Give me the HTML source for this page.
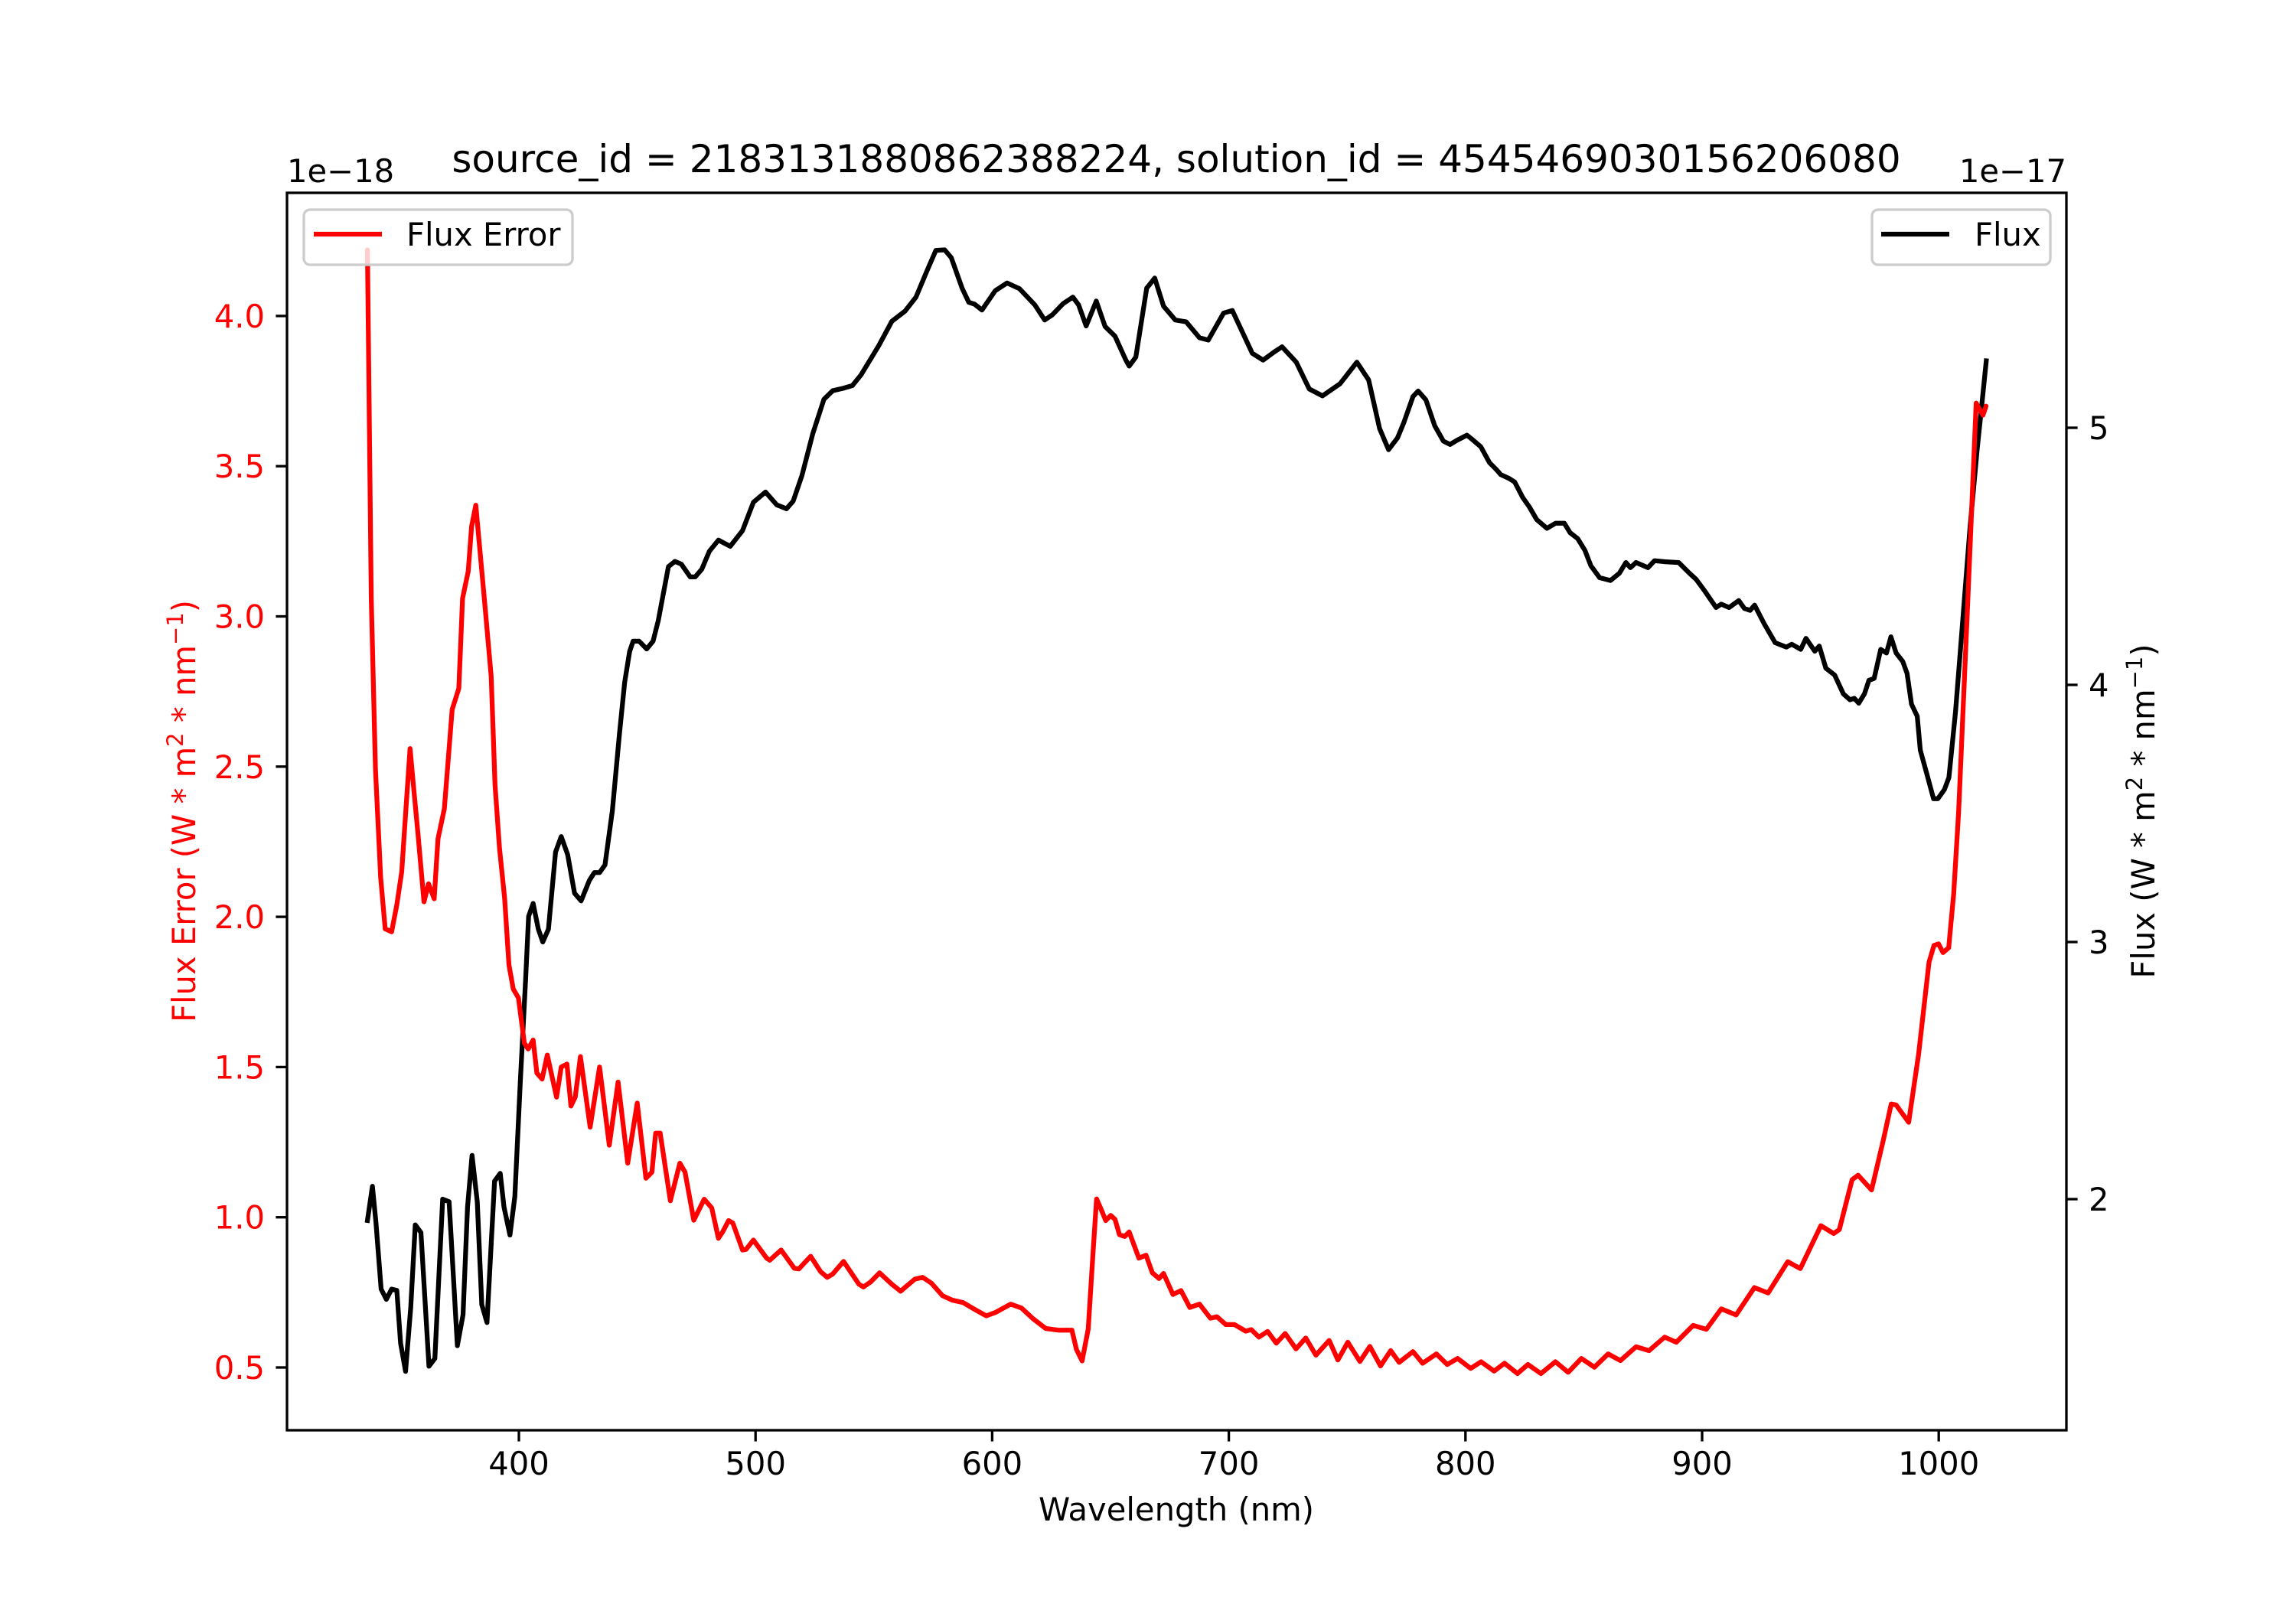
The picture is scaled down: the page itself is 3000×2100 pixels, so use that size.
<!DOCTYPE html>
<html><head><meta charset="utf-8">
<style>
html,body{margin:0;padding:0;background:#fff;}
svg{display:block;font-family:"DejaVu Sans","Liberation Sans",sans-serif;}
</style></head>
<body>
<svg id="chart" width="3000" height="2100" viewBox="0 0 3000 2100" xmlns="http://www.w3.org/2000/svg">
<rect x="0" y="0" width="3000" height="2100" fill="#fff"/>
<text x="1537" y="225" font-size="50" text-anchor="middle">source_id = 2183131880862388224, solution_id = 4545469030156206080</text>
<text x="375" y="238" font-size="41.7">1e−18</text>
<text x="2700" y="238" font-size="41.7" text-anchor="end">1e−17</text>
<g id="plot"></g>
<g id="axes"></g>
<text x="1537" y="1987" font-size="41.7" text-anchor="middle">Wavelength (nm)</text>
<text transform="translate(255,1060) rotate(-90)" font-size="41.7" fill="#ff0000" text-anchor="middle">Flux Error (W * m<tspan font-size="29" dy="-16">2</tspan><tspan dy="16"> * nm</tspan><tspan font-size="29" dy="-16">−1</tspan><tspan dy="16">)</tspan></text>
<text transform="translate(2815,1060) rotate(-90)" font-size="41.7" fill="#000" text-anchor="middle">Flux (W * m<tspan font-size="29" dy="-16">2</tspan><tspan dy="16"> * nm</tspan><tspan font-size="29" dy="-16">−1</tspan><tspan dy="16">)</tspan></text>
<g>
<rect x="397" y="274" width="351" height="72" rx="8" fill="#fff" fill-opacity="0.8" stroke="#cccccc" stroke-width="3.3"/>
<line x1="410" y1="306" x2="499" y2="306" stroke="#ff0000" stroke-width="6.25"/>
<text x="531" y="321" font-size="41.7">Flux Error</text>
</g>
<g>
<rect x="2446" y="274" width="233" height="72" rx="8" fill="#fff" fill-opacity="0.8" stroke="#cccccc" stroke-width="3.3"/>
<line x1="2458" y1="306" x2="2547" y2="306" stroke="#000" stroke-width="6.25"/>
<text x="2580" y="321" font-size="41.7">Flux</text>
</g>
</svg>
<script>
const xTicks = [400, 500, 600, 700, 800, 900, 1000];
const leftTicks = [0.5, 1.0, 1.5, 2.0, 2.5, 3.0, 3.5, 4.0];
const leftTickLabels = ["0.5","1.0","1.5","2.0","2.5","3.0","3.5","4.0"];
const rightTicks = [2, 3, 4, 5];
const rightTickLabels = ["2","3","4","5"];

const errWl = [336,337.6,339.4,341.6,343.5,346.2,348.4,350.5,352.1,354,355.4,357.3,359.9,361.8,364.2,365.8,368.5,371.8,374.6,376.2,378.6,380,381.8,385.6,388.3,389.9,391.8,394,395.8,397.6,399.8,402.3,403.9,406,407.6,409.8,412,415.9,417.9,420.3,422,423.8,426,430.1,434.1,438.2,441.9,446,450,453.7,456.2,457.8,459.7,464,468,470.2,473.9,478.3,
481.5,484.3,486.1,488.6,490.4,494.5,496,499.1,504.7,506,510.8,516.4,518.3,523.3,527.5,530.3,532.6,537.2,543.7,545.6,548.7,552.4,557.6,561.3,567.3,570.6,574.3,579,583.2,587.7,592.9,597.5,601.3,607.8,612.4,617,622.6,628.2,633.7,635.6,638,640.6,642.7,644.1,645.8,648,650.1,651.9,653.8,656,657.9,662,665,667.7,670.5,672.4,676.4,679.8,683.5,687.6,692.2,695,698.7,702.4,707.1,709.5,712.7,716.4,720.1,723.8,728.4,732.5,736.8,742.4,746.1,750.3,755.4,759.6,764.1,768.4,
772,777.8,781.9,787.7,792.3,796.7,802.2,806.6,812.1,816.5,822,826.4,831.9,838,843.4,849,854.5,860.3,865.5,872.1,877.6,884.2,889.1,896.2,901.8,908.1,914.4,922.1,927.9,936.2,941.5,950.2,955.6,958,963.4,965.9,971.6,976.6,979.9,982,987.3,991.5,995.9,998,999.9,1001.8,1004.2,1006.3,1008.4,1012,1015.8,1018.7,1020];
const errVal = [4.22,3.06,2.49,2.13,1.96,1.95,2.04,2.15,2.34,2.56,2.44,2.28,2.05,2.11,2.06,2.26,2.36,2.69,2.76,3.06,3.15,3.30,3.37,3.04,2.80,2.44,2.23,2.06,1.84,1.76,1.73,1.58,1.56,1.59,1.48,1.46,1.54,1.40,1.50,1.51,1.37,1.40,1.535,1.30,1.50,1.24,1.45,1.18,1.38,1.13,1.15,1.28,1.28,1.055,1.18,1.15,0.99,1.06,
1.031,0.93,0.951,0.989,0.981,0.891,0.893,0.924,0.864,0.857,0.891,0.83,0.828,0.87,0.819,0.80,0.811,0.853,0.777,0.768,0.785,0.815,0.777,0.754,0.794,0.80,0.781,0.739,0.724,0.716,0.692,0.672,0.683,0.711,0.698,0.664,0.63,0.624,0.624,0.56,0.522,0.628,0.891,1.061,1.031,0.989,1.006,0.993,0.942,0.936,0.951,0.864,0.874,0.815,0.796,0.813,0.743,0.756,0.70,0.711,0.664,0.669,0.643,0.643,0.621,0.626,0.601,0.62,0.581,0.613,0.562,0.598,0.541,0.59,0.525,0.584,0.52,0.57,0.505,0.556,
0.517,0.553,0.514,0.545,0.51,0.53,0.497,0.519,0.488,0.514,0.48,0.51,0.48,0.519,0.484,0.53,0.501,0.545,0.523,0.569,0.556,0.601,0.584,0.64,0.627,0.695,0.675,0.766,0.748,0.852,0.829,0.972,0.946,0.959,1.125,1.14,1.091,1.257,1.377,1.374,1.316,1.543,1.849,1.905,1.91,1.881,1.897,2.076,2.35,3.0,3.71,3.67,3.70];

const fluxWl = [336,338.1,339.6,341.8,344,346.2,348.4,350,352.1,354.3,356.2,358.6,362,364.5,367.8,370.5,374,376.4,378.3,380.2,382.4,384.3,386.5,389.7,392.1,393.7,396.2,398.3,400.6,402.8,404.1,406,408.2,410.1,412.5,415.5,417.9,420.6,423.5,426.3,429.8,431.9,434.1,436.4,439.5,442.5,444.7,446.8,448.3,450.8,454,456.7,458.9,463.2,465.9,468.6,472.4,474.5,477.3,480.5,
484.3,489.3,494.5,499.1,504.2,509,513.1,515.9,519.6,524.2,528.9,532.6,537.2,540.9,544.6,552.1,557.6,563.2,567.8,572.5,576.2,579.9,582.7,587.3,590.1,592.5,595.7,601.3,606.3,611.5,618,622.2,625.4,630,634.1,636.5,639.7,644,647.7,651.9,656.4,657.9,660.7,665.3,668.7,672.4,677.4,682,687.6,691.3,697.8,701.5,709.9,714.5,719.2,722.5,728.5,734,739.6,747,750.7,754.1,759.1,763.7,
767.5,771.3,774,777.8,780,783.3,787,790.7,793.5,796.3,800.6,802.8,806.5,810.2,813,814.9,818.6,820.8,824.2,827,830.1,834.4,838.1,841.8,844.2,847.4,850.5,853,856.7,861.3,865,867.8,869.7,872.1,877.1,879.9,884.5,890.1,894.7,897.5,901.2,905.9,908.1,911.4,915.5,917.9,920.3,922.2,926.3,930.9,935.6,937.9,941.7,943.9,947.6,949.5,952.3,956,959.7,962.5,964.3,966.2,968.6,970.5,972.7,975.5,977.9,979.8,982,984.8,986.6,988.5,990.9,992.2,995,997.8,999.6,1002.4,1004.3,1007.1,1009.8,1013.2,1016.3,1017.6,1020.1];
const fluxVal = [1.917,2.05,1.91,1.65,1.61,1.65,1.645,1.44,1.33,1.58,1.90,1.87,1.35,1.38,2.00,1.99,1.43,1.55,1.97,2.17,1.99,1.59,1.52,2.07,2.10,1.97,1.86,2.01,2.46,2.85,3.10,3.15,3.05,3.00,3.05,3.35,3.41,3.34,3.19,3.16,3.24,3.27,3.27,3.30,3.51,3.81,4.01,4.13,4.17,4.17,4.14,4.17,4.25,4.46,4.48,4.47,4.42,4.42,4.45,4.52,
4.563,4.539,4.60,4.71,4.75,4.70,4.685,4.715,4.814,4.977,5.111,5.144,5.154,5.164,5.206,5.32,5.414,5.454,5.508,5.612,5.69,5.692,5.662,5.543,5.488,5.481,5.458,5.533,5.563,5.541,5.478,5.419,5.439,5.483,5.508,5.478,5.396,5.493,5.394,5.356,5.265,5.240,5.275,5.543,5.582,5.473,5.419,5.412,5.35,5.341,5.446,5.456,5.29,5.263,5.295,5.315,5.255,5.151,5.124,5.171,5.215,5.255,5.186,4.997,
4.915,4.961,5.021,5.121,5.143,5.108,5.008,4.948,4.935,4.951,4.971,4.955,4.926,4.864,4.838,4.818,4.802,4.789,4.729,4.692,4.643,4.609,4.629,4.629,4.592,4.569,4.523,4.463,4.417,4.406,4.434,4.476,4.456,4.476,4.456,4.483,4.479,4.476,4.434,4.41,4.364,4.301,4.314,4.301,4.328,4.297,4.29,4.31,4.237,4.164,4.147,4.158,4.138,4.181,4.131,4.151,4.065,4.038,3.965,3.942,3.948,3.929,3.965,4.018,4.025,4.138,4.124,4.187,4.124,4.091,4.045,3.925,3.878,3.746,3.653,3.557,3.557,3.593,3.64,3.898,4.211,4.61,4.922,5.035,5.26];

const NS = "http://www.w3.org/2000/svg";
const AX = {l:375, r:2700, t:252, b:1869};
const X = v => 678 + (v - 400) * 3.092;
const YL = v => 1787 - (v - 0.5) * 392.6;
const YR = v => 1567 - (v - 2) * 336;

const plot = document.getElementById('plot');
const axes = document.getElementById('axes');

function mk(tag, attrs, parent){
  const e = document.createElementNS(NS, tag);
  for (const k in attrs) e.setAttribute(k, attrs[k]);
  parent.appendChild(e);
  return e;
}

let d1 = fluxWl.map((w,i)=>(i?'L':'M')+X(w).toFixed(1)+','+YR(fluxVal[i]).toFixed(1)).join(' ');
const fluxLine = mk('path', {d:d1, fill:'none', stroke:'#000', 'stroke-width':6.25, 'stroke-linejoin':'round', 'stroke-linecap':'square'}, plot);



let d2 = errWl.map((w,i)=>(i?'L':'M')+X(w).toFixed(1)+','+YL(errVal[i]).toFixed(1)).join(' ');
const errLine = mk('path', {d:d2, fill:'none', stroke:'#ff0000', 'stroke-width':6.25, 'stroke-linejoin':'round', 'stroke-linecap':'round'}, plot);



const frame = mk('rect', {x:AX.l, y:AX.t, width:AX.r-AX.l, height:AX.b-AX.t, fill:'none', stroke:'#000', 'stroke-width':3.3}, axes);



xTicks.forEach(v=>{
  const x = X(v);
  const t = mk('line', {x1:x, y1:AX.b, x2:x, y2:AX.b+14.6, stroke:'#000', 'stroke-width':3.3}, axes);
  
  
  const lb = mk('text', {x:x, y:AX.b+58, 'font-size':41.7, 'text-anchor':'middle'}, axes);
  lb.textContent = String(v);
  
  
});
leftTicks.forEach((v,i)=>{
  const y = YL(v);
  const t = mk('line', {x1:AX.l-14.6, y1:y, x2:AX.l, y2:y, stroke:'#000', 'stroke-width':3.3}, axes);
  
  
  const lb = mk('text', {x:AX.l-29, y:y+15, 'font-size':41.7, 'text-anchor':'end', fill:'#ff0000'}, axes);
  lb.textContent = leftTickLabels[i];
  
  
});
rightTicks.forEach((v,i)=>{
  const y = YR(v);
  const t = mk('line', {x1:AX.r, y1:y, x2:AX.r+14.6, y2:y, stroke:'#000', 'stroke-width':3.3}, axes);
  
  
  const lb = mk('text', {x:AX.r+29, y:y+15, 'font-size':41.7, 'text-anchor':'start'}, axes);
  lb.textContent = rightTickLabels[i];
  
  
});
</script>
</body></html>
